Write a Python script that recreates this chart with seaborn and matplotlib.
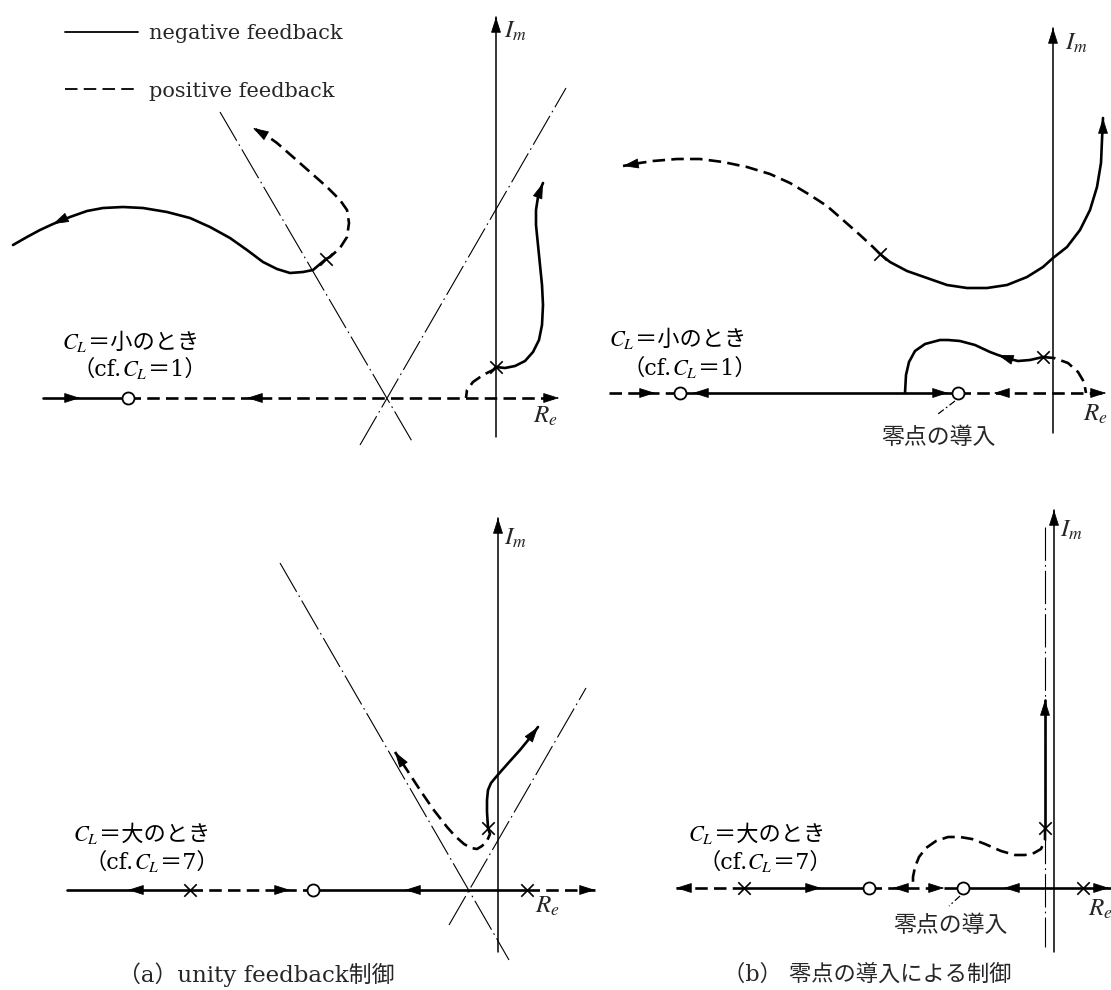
import numpy as np
import pandas as pd
import matplotlib
matplotlib.use("Agg")
import matplotlib.pyplot as plt
import seaborn as sns
from matplotlib.lines import Line2D
from matplotlib.offsetbox import TextArea, HPacker, AnnotationBbox

# ------------------------------------------------------------------
# Root-locus sketches on the page (x to the right, y downward, in px)
# ------------------------------------------------------------------
# (a) unity feedback, C_L small
a1_neg_left_x = [13, 27, 40, 53, 70, 87, 103, 123, 143, 167, 190, 210, 230, 247, 263, 277, 290, 303, 313, 326]
a1_neg_left_y = [245, 237, 230, 224, 217, 211, 208, 207, 208, 212, 218, 227, 238, 250, 262, 269, 273, 272, 270, 259]
a1_pos_loop_x = [326, 330, 340, 347, 349, 347, 340, 327, 310, 293, 277, 263, 253]
a1_pos_loop_y = [259, 257, 248, 237, 223, 210, 200, 187, 172, 157, 143, 133, 128]
a1_neg_right_x = [496, 505, 515, 525, 533, 539, 542, 543, 542, 540, 538, 536, 536, 538, 541, 543]
a1_neg_right_y = [367, 368, 366, 361, 352, 340, 325, 305, 285, 265, 245, 225, 210, 197, 188, 183]
a1_pos_drop_x = [496, 493, 483, 473, 467, 466]
a1_pos_drop_y = [367, 370, 375, 382, 390, 398]
a1_asym_x = [[220, 413], [360, 566]]
a1_asym_y = [[112, 443], [445, 88]]
a1_real_x = [43, 128, 559]
a1_real_kind = ["neg", "pos"]
a1_real_y = 398
a1_imag_x, a1_imag_y = 496, [437, 17]
a1_poles_x, a1_poles_y = [326, 496], [259, 367]
a1_zeros_x, a1_zeros_y = [128], [398]

# (b) zero added, C_L small
b1_pos_left_x = [880, 873, 860, 843, 827, 810, 790, 770, 747, 723, 700, 677, 653, 633, 623]
b1_pos_left_y = [254, 247, 235, 220, 206, 195, 183, 174, 167, 162, 159, 159, 161, 164, 166]
b1_neg_right_x = [880, 890, 907, 927, 947, 967, 987, 1007, 1027, 1043, 1053, 1067, 1080, 1090, 1097, 1101, 1102, 1103]
b1_neg_right_y = [254, 262, 271, 278, 285, 288, 288, 285, 277, 267, 258, 247, 230, 210, 187, 163, 140, 118]
b1_neg_hump_x = [1043, 1030, 1018, 1010, 998, 990, 975, 960, 948, 940, 925, 915, 909, 906, 905]
b1_neg_hump_y = [357, 360, 361, 359, 355, 352, 345, 341, 340, 340, 344, 351, 362, 375, 393]
b1_pos_drop_x = [1043, 1054, 1068, 1078, 1084, 1086]
b1_pos_drop_y = [357, 358, 363, 372, 382, 393]
b1_real_x = [609, 680, 958, 1106]
b1_real_kind = ["pos", "neg", "pos"]
b1_real_y = 393
b1_imag_x, b1_imag_y = 1053, [433, 28]
b1_poles_x, b1_poles_y = [880, 1043], [254, 357]
b1_zeros_x, b1_zeros_y = [680, 958], [393, 393]

# (a) unity feedback, C_L large
a2_pos_x = [488, 490, 487, 482, 477, 471, 464, 455, 447, 440, 433, 420, 407, 395]
a2_pos_y = [828, 834, 841, 846, 849, 848, 844, 836, 827, 818, 809, 790, 770, 752]
a2_neg_x = [488, 487, 487, 488, 491, 496, 503, 511, 520, 529, 538]
a2_neg_y = [828, 812, 800, 790, 783, 777, 769, 760, 750, 739, 727]
a2_asym_x = [[280, 509], [449, 586]]
a2_asym_y = [[563, 960], [925, 688]]
a2_real_x = [67, 190, 313, 527, 595]
a2_real_kind = ["neg", "pos", "neg", "pos"]
a2_real_y = 890
a2_imag_x, a2_imag_y = 498, [952, 518]
a2_poles_x, a2_poles_y = [190, 527, 488], [890, 890, 828]
a2_zeros_x, a2_zeros_y = [313], [890]

# (b) zero added, C_L large
b2_neg_up_x = [1045, 1045]
b2_neg_up_y = [828, 700]
b2_pos_x = [1045, 1045, 1041, 1034, 1025, 1015, 1001, 985, 972, 960, 948, 936, 926, 919, 915, 913, 913]
b2_pos_y = [828, 840, 849, 853, 855, 855, 851, 844, 839, 837, 837, 841, 848, 857, 867, 877, 887]
b2_asym_x = [[1045, 1045]]
b2_asym_y = [[527, 947]]
b2_real_x = [676, 744, 869, 963, 1083, 1111]
b2_real_kind = ["pos", "neg", "pos", "neg", "pos"]
b2_real_y = 888
b2_imag_x, b2_imag_y = 1054, [952, 510]
b2_poles_x, b2_poles_y = [744, 1083, 1045], [888, 888, 828]
b2_zeros_x, b2_zeros_y = [869, 963], [888, 888]

# direction arrows: tip x, tip y, direction dx, dy
arrows = [
    (53, 224, -17, 8), (253, 128, -12, -7), (543, 183, 3, -8),
    (80, 398, 1, 0), (247, 398, -1, 0), (559, 398, 1, 0), (496, 17, 0, -1),
    (623, 166, -12, 2), (1103, 118, 0, -1), (998, 355, -12, -4),
    (655, 393, 1, 0), (693, 393, -1, 0), (948, 393, 1, 0), (994, 393, -1, 0),
    (1106, 393, 1, 0), (1053, 28, 0, -1),
    (395, 752, -12, -18), (538, 727, 9, -12),
    (128, 890, -1, 0), (290, 890, 1, 0), (405, 890, -1, 0), (595, 890, 1, 0),
    (498, 518, 0, -1),
    (1045, 700, 0, -1), (676, 888, -1, 0), (821, 888, 1, 0), (893, 888, -1, 0),
    (944, 888, 1, 0), (1004, 888, -1, 0), (1109, 888, 1, 0), (1054, 510, 0, -1),
]

# pointers from the added zero to its note
zero_note_x = [[955, 938], [960, 949]]
zero_note_y = [[401, 414], [896, 906]]

legend_labels = ["negative feedback", "positive feedback"]
cond_small = ["＝小のとき", "＝1）"]
cond_large = ["＝大のとき", "＝7）"]
zero_note = "零点の導入"
caption_a = "（a）unity feedback制御"
caption_b = "（b） 零点の導入による制御"

# ------------------------------------------------------------------
sns.set_theme(style="white")
plt.rcParams["font.family"] = ["DejaVu Serif", "Noto Sans CJK JP"]
plt.rcParams["mathtext.fontset"] = "stix"
plt.rcParams["lines.scale_dashes"] = False

W, H = 1111, 990
fig = plt.figure(figsize=(W / 100, H / 100), dpi=100)
ax = fig.add_axes([0, 0, 1, 1])

DASH = (0, (9, 4.5))
NEG = dict(color="black", lw=1.9, linestyle="-")
POS = dict(color="black", lw=1.9, linestyle=DASH)
ASYM = dict(color="black", lw=0.8, linestyle=(0, (24, 3, 1.2, 3)))
AXIS = dict(color="black", lw=1.1, linestyle="-")
NOTE = dict(color="black", lw=0.9, linestyle=(0, (5, 2, 1.2, 2)))
STYLE = {"neg": NEG, "pos": POS}


def curve(x, y, style):
    df = pd.DataFrame({"x": x, "y": y})
    sns.lineplot(data=df, x="x", y="y", sort=False, estimator=None, ax=ax,
                 solid_capstyle="round", solid_joinstyle="round", **style)


for nx, ny, px, py in [
    (a1_neg_left_x, a1_neg_left_y, a1_pos_loop_x, a1_pos_loop_y),
    (a1_neg_right_x, a1_neg_right_y, a1_pos_drop_x, a1_pos_drop_y),
    (b1_neg_right_x, b1_neg_right_y, b1_pos_left_x, b1_pos_left_y),
    (b1_neg_hump_x, b1_neg_hump_y, b1_pos_drop_x, b1_pos_drop_y),
    (a2_neg_x, a2_neg_y, a2_pos_x, a2_pos_y),
    (b2_neg_up_x, b2_neg_up_y, b2_pos_x, b2_pos_y),
]:
    curve(nx, ny, NEG)
    curve(px, py, POS)

# asymptotes
for xs, ys in [(a1_asym_x, a1_asym_y), (a2_asym_x, a2_asym_y), (b2_asym_x, b2_asym_y)]:
    for lx, ly in zip(xs, ys):
        curve(lx, ly, ASYM)

# real-axis loci and imaginary axes
for rx, kinds, ry in [(a1_real_x, a1_real_kind, a1_real_y), (b1_real_x, b1_real_kind, b1_real_y),
                      (a2_real_x, a2_real_kind, a2_real_y), (b2_real_x, b2_real_kind, b2_real_y)]:
    for x0, x1, k in zip(rx[:-1], rx[1:], kinds):
        curve([x0, x1], [ry, ry], STYLE[k])

for ix, iy in [(a1_imag_x, a1_imag_y), (b1_imag_x, b1_imag_y),
               (a2_imag_x, a2_imag_y), (b2_imag_x, b2_imag_y)]:
    curve([ix, ix], iy, AXIS)

for lx, ly in zip(zero_note_x, zero_note_y):
    curve(lx, ly, NOTE)

# arrowheads
for x, y, dx, dy in arrows:
    n = np.hypot(dx, dy)
    ax.annotate("", xy=(x, y), xytext=(x - dx / n * 2, y - dy / n * 2),
                arrowprops=dict(arrowstyle="-|>,head_length=0.5,head_width=0.16",
                                mutation_scale=20, fc="black", ec="black", lw=0.6,
                                shrinkA=0, shrinkB=0), zorder=5)

# poles and zeros
px_all = a1_poles_x + b1_poles_x + a2_poles_x + b2_poles_x
py_all = a1_poles_y + b1_poles_y + a2_poles_y + b2_poles_y
zx_all = a1_zeros_x + b1_zeros_x + a2_zeros_x + b2_zeros_x
zy_all = a1_zeros_y + b1_zeros_y + a2_zeros_y + b2_zeros_y
sns.scatterplot(x=px_all, y=py_all, marker="x", s=80, color="black",
                linewidth=1.2, ax=ax, zorder=6)
sns.scatterplot(x=zx_all, y=zy_all, marker="o", s=75, color="white",
                edgecolor="black", linewidth=1.3, ax=ax, zorder=7)

# axis names
for x, y in [(504, 31), (1065, 43), (504, 538), (1060, 530)]:
    ax.text(x, y, "$I_m$", fontsize=18, ha="left", va="center")
for x, y in [(533, 416), (1083, 414), (535, 906), (1088, 909)]:
    ax.text(x, y, "$R_e$", fontsize=18, ha="left", va="center")

# condition labels made of mixed pieces
CJK = ["DejaVu Serif", "Noto Sans CJK JP"]


def run(pieces, xy, size):
    kids = [TextArea(s, textprops=dict(fontsize=size, family=CJK, color="black"))
            for s in pieces]
    box = HPacker(children=kids, align="baseline", pad=0, sep=0)
    ab = AnnotationBbox(box, xy, xycoords="data", box_alignment=(0, 0.5),
                        frameon=False, pad=0)
    ax.add_artist(ab)


for (x1, y1, x2, y2), tail in [((62, 343, 73, 370), cond_small),
                               ((609, 340, 623, 369), cond_small),
                               ((73, 835, 85, 863), cond_large),
                               ((688, 835, 698, 863), cond_large)]:
    run(["$C_L$", tail[0]], (x1, y1), 16)
    run(["（cf.", "$C_L$", tail[1]], (x2, y2), 16)

for x, y in [(938, 438), (950, 926)]:
    ax.text(x, y, zero_note, fontsize=16.5, ha="center", va="center")

ax.text(256, 975, caption_a, fontsize=16.5, ha="center", va="center")
ax.text(867, 975, caption_b, fontsize=16, ha="center", va="center")

# legend for the two line styles
handles = [Line2D([], [], color="black", lw=1.3),
           Line2D([], [], color="black", lw=1.3, linestyle=DASH)]
ax.legend(handles, legend_labels, loc="upper left",
          bbox_to_anchor=(65 / W, 1 - 24 / H), frameon=False, fontsize=15,
          handlelength=3.5, handletextpad=0.55, labelspacing=1.85,
          borderpad=0, borderaxespad=0)

ax.set_xlim(0, W)
ax.set_ylim(H, 0)
ax.set_axis_off()
fig.savefig("out.png", dpi=100, facecolor="white")
